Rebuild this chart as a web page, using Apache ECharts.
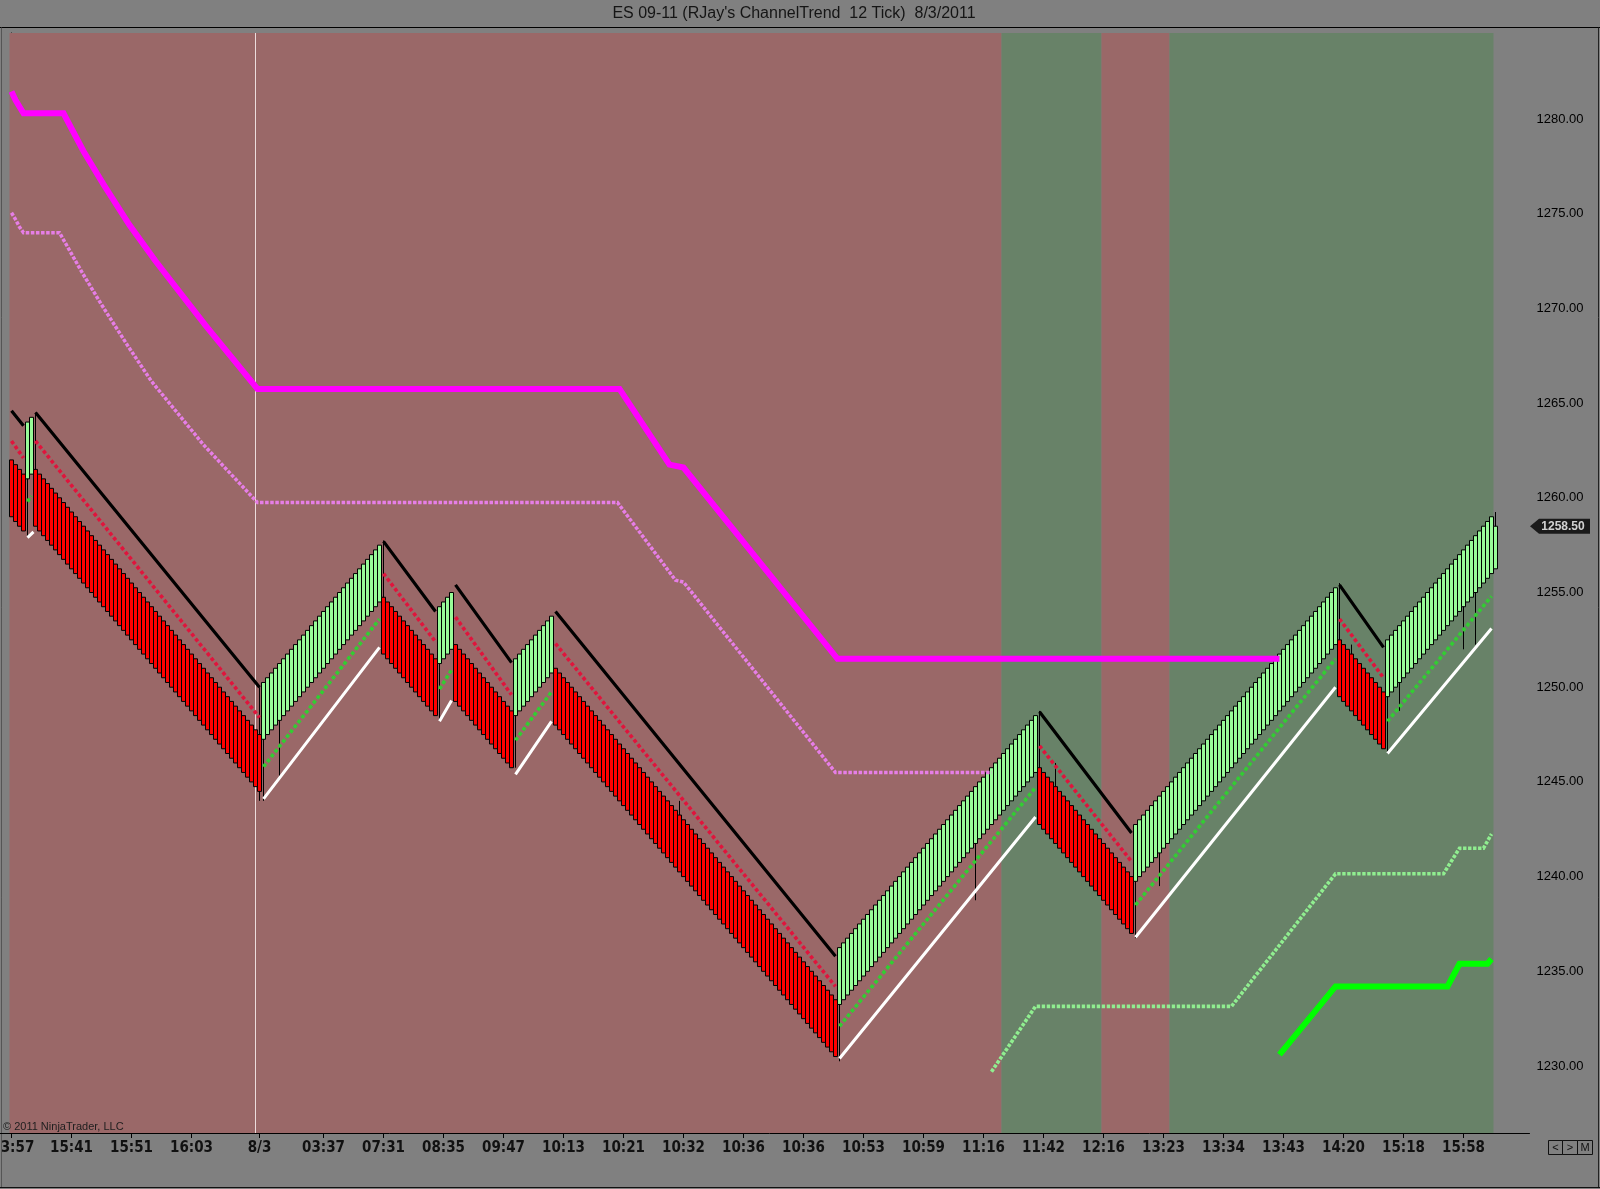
<!DOCTYPE html>
<html><head><meta charset="utf-8">
<script src="https://cdn.jsdelivr.net/npm/echarts@6/dist/echarts.min.js"></script>
<style>html,body{margin:0;padding:0;background:#808080;}#c{width:1600px;height:1189px;}</style>
</head><body><div id="c"></div><script>
// ===== DATA =====
const titleText = "ES 09-11 (RJay's ChannelTrend  12 Tick)  8/3/2011";
const barCount = 380; // category slots incl. right margin
const closes = [
1259,1258.75,1258.5,1258.25,
1264,1264.25,
1258.5,1258.25,1258,1257.75,1257.5,1257.25,1257,1256.75,1256.5,1256.25,
1256,1255.75,1255.5,1255.25,1255,1254.75,1254.5,1254.25,1254,1253.75,
1253.5,1253.25,1253,1252.75,1252.5,1252.25,1252,1251.75,1251.5,1251.25,
1251,1250.75,1250.5,1250.25,1250,1249.75,1249.5,1249.25,1249,1248.75,
1248.5,1248.25,1248,1247.75,1247.5,1247.25,1247,1246.75,1246.5,1246.25,
1246,1245.75,1245.5,1245.25,1245,1244.75,1244.5,
1250.25,1250.5,1250.75,1251,1251.25,1251.5,1251.75,1252,1252.25,1252.5,
1252.75,1253,1253.25,1253.5,1253.75,1254,1254.25,1254.5,1254.75,1255,
1255.25,1255.5,1255.75,1256,1256.25,1256.5,1256.75,1257,1257.25,1257.5,
1251.75,1251.5,1251.25,1251,1250.75,1250.5,1250.25,1250,1249.75,1249.5,1249.25,1249,1248.75,1248.5,
1254.25,1254.5,1254.75,1255,
1249.25,1249,1248.75,1248.5,1248.25,1248,1247.75,1247.5,1247.25,1247,1246.75,1246.5,1246.25,1246,1245.75,
1251.5,1251.75,1252,1252.25,1252.5,1252.75,1253,1253.25,1253.5,1253.75,
1248,1247.75,1247.5,1247.25,1247,1246.75,1246.5,1246.25,1246,1245.75,
1245.5,1245.25,1245,1244.75,1244.5,1244.25,1244,1243.75,1243.5,1243.25,
1243,1242.75,1242.5,1242.25,1242,1241.75,1241.5,1241.25,1241,1240.75,
1240.5,1240.25,1240,1239.75,1239.5,1239.25,1239,1238.75,1238.5,1238.25,
1238,1237.75,1237.5,1237.25,1237,1236.75,1236.5,1236.25,1236,1235.75,
1235.5,1235.25,1235,1234.75,1234.5,1234.25,1234,1233.75,1233.5,1233.25,
1233,1232.75,1232.5,1232.25,1232,1231.75,1231.5,1231.25,1231,1230.75,
1230.5,
1236.25,1236.5,1236.75,1237,1237.25,1237.5,1237.75,1238,1238.25,1238.5,
1238.75,1239,1239.25,1239.5,1239.75,1240,1240.25,1240.5,1240.75,1241,
1241.25,1241.5,1241.75,1242,1242.25,1242.5,1242.75,1243,1243.25,1243.5,
1243.75,1244,1244.25,1244.5,1244.75,1245,1245.25,1245.5,1245.75,1246,
1246.25,1246.5,1246.75,1247,1247.25,1247.5,1247.75,1248,1248.25,1248.5,
1242.75,1242.5,1242.25,1242,1241.75,1241.5,1241.25,1241,1240.75,1240.5,
1240.25,1240,1239.75,1239.5,1239.25,1239,1238.75,1238.5,1238.25,1238,
1237.75,1237.5,1237.25,1237,
1242.75,1243,1243.25,1243.5,1243.75,1244,1244.25,1244.5,1244.75,1245,
1245.25,1245.5,1245.75,1246,1246.25,1246.5,1246.75,1247,1247.25,1247.5,
1247.75,1248,1248.25,1248.5,1248.75,1249,1249.25,1249.5,1249.75,1250,
1250.25,1250.5,1250.75,1251,1251.25,1251.5,1251.75,1252,1252.25,1252.5,
1252.75,1253,1253.25,1253.5,1253.75,1254,1254.25,1254.5,1254.75,1255,
1255.25,
1249.5,1249.25,1249,1248.75,1248.5,1248.25,1248,1247.75,1247.5,1247.25,1247,1246.75,
1252.5,1252.75,1253,1253.25,1253.5,1253.75,1254,1254.25,1254.5,1254.75,
1255,1255.25,1255.5,1255.75,1256,1256.25,1256.5,1256.75,1257,1257.25,
1257.5,1257.75,1258,1258.25,1258.5,1258.75,1259,
1258.5
];
const opens = [
1262,1261.75,1261.5,1261.25,
1261,1261.25,
1261.5,1261.25,1261,1260.75,1260.5,1260.25,1260,1259.75,1259.5,1259.25,
1259,1258.75,1258.5,1258.25,1258,1257.75,1257.5,1257.25,1257,1256.75,
1256.5,1256.25,1256,1255.75,1255.5,1255.25,1255,1254.75,1254.5,1254.25,
1254,1253.75,1253.5,1253.25,1253,1252.75,1252.5,1252.25,1252,1251.75,
1251.5,1251.25,1251,1250.75,1250.5,1250.25,1250,1249.75,1249.5,1249.25,
1249,1248.75,1248.5,1248.25,1248,1247.75,1247.5,
1247.25,1247.5,1247.75,1248,1248.25,1248.5,1248.75,1249,1249.25,1249.5,
1249.75,1250,1250.25,1250.5,1250.75,1251,1251.25,1251.5,1251.75,1252,
1252.25,1252.5,1252.75,1253,1253.25,1253.5,1253.75,1254,1254.25,1254.5,
1254.75,1254.5,1254.25,1254,1253.75,1253.5,1253.25,1253,1252.75,1252.5,1252.25,1252,1251.75,1251.5,
1251.25,1251.5,1251.75,1252,
1252.25,1252,1251.75,1251.5,1251.25,1251,1250.75,1250.5,1250.25,1250,1249.75,1249.5,1249.25,1249,1248.75,
1248.5,1248.75,1249,1249.25,1249.5,1249.75,1250,1250.25,1250.5,1250.75,
1251,1250.75,1250.5,1250.25,1250,1249.75,1249.5,1249.25,1249,1248.75,
1248.5,1248.25,1248,1247.75,1247.5,1247.25,1247,1246.75,1246.5,1246.25,
1246,1245.75,1245.5,1245.25,1245,1244.75,1244.5,1244.25,1244,1243.75,
1243.5,1243.25,1243,1242.75,1242.5,1242.25,1242,1241.75,1241.5,1241.25,
1241,1240.75,1240.5,1240.25,1240,1239.75,1239.5,1239.25,1239,1238.75,
1238.5,1238.25,1238,1237.75,1237.5,1237.25,1237,1236.75,1236.5,1236.25,
1236,1235.75,1235.5,1235.25,1235,1234.75,1234.5,1234.25,1234,1233.75,
1233.5,
1233.25,1233.5,1233.75,1234,1234.25,1234.5,1234.75,1235,1235.25,1235.5,
1235.75,1236,1236.25,1236.5,1236.75,1237,1237.25,1237.5,1237.75,1238,
1238.25,1238.5,1238.75,1239,1239.25,1239.5,1239.75,1240,1240.25,1240.5,
1240.75,1241,1241.25,1241.5,1241.75,1242,1242.25,1242.5,1242.75,1243,
1243.25,1243.5,1243.75,1244,1244.25,1244.5,1244.75,1245,1245.25,1245.5,
1245.75,1245.5,1245.25,1245,1244.75,1244.5,1244.25,1244,1243.75,1243.5,
1243.25,1243,1242.75,1242.5,1242.25,1242,1241.75,1241.5,1241.25,1241,
1240.75,1240.5,1240.25,1240,
1239.75,1240,1240.25,1240.5,1240.75,1241,1241.25,1241.5,1241.75,1242,
1242.25,1242.5,1242.75,1243,1243.25,1243.5,1243.75,1244,1244.25,1244.5,
1244.75,1245,1245.25,1245.5,1245.75,1246,1246.25,1246.5,1246.75,1247,
1247.25,1247.5,1247.75,1248,1248.25,1248.5,1248.75,1249,1249.25,1249.5,
1249.75,1250,1250.25,1250.5,1250.75,1251,1251.25,1251.5,1251.75,1252,
1252.25,
1252.5,1252.25,1252,1251.75,1251.5,1251.25,1251,1250.75,1250.5,1250.25,1250,1249.75,
1249.5,1249.75,1250,1250.25,1250.5,1250.75,1251,1251.25,1251.5,1251.75,
1252,1252.25,1252.5,1252.75,1253,1253.25,1253.5,1253.75,1254,1254.25,
1254.5,1254.75,1255,1255.25,1255.5,1255.75,1256,
1256.25
];
// wicks beyond the bodies
const wickHighBars = [6, 62, 93, 167, 257, 261, 332, 335, 371];
const wickHighVals = [1264.5, 1250, 1257.75, 1244, 1248.75, 1246, 1255.5, 1252.25, 1259.25];
const wickLowBars = [4, 62, 63, 67, 107, 126, 207, 241, 281, 287, 344, 347, 363, 366];
const wickLowVals = [1258, 1244, 1244, 1245.25, 1248.25, 1245.75, 1230.25, 1238.75, 1236.75, 1239.5, 1246.5, 1248.75, 1252, 1252.25];

// channel lines: segments of [bar, price] knots
const blackSegs = [
 [[0,1264.6],[3,1263.8]], [[6,1264.5],[62,1250.0]], [[93,1257.7],[106,1254.0]],
 [[111,1255.4],[125,1251.3]], [[136,1254.0],[206,1235.8]], [[257,1248.7],[280,1242.3]],
 [[332,1255.4],[343,1252.1]]
];
const redDotSegs = [
 [[0,1263.0],[3,1262.1]], [[6,1263.0],[62,1248.4]], [[93,1256.0],[106,1252.4]],
 [[111,1253.7],[125,1249.6]], [[136,1252.3],[206,1234.2]], [[257,1246.9],[280,1240.8]],
 [[332,1253.6],[343,1250.5]]
];
const whiteSegs = [
 [[4,1257.9],[5.5,1258.2]], [[63,1244.1],[92,1252.1]], [[107,1248.2],[110,1249.3]],
 [[126,1245.4],[135,1248.2]], [[207,1230.4],[256,1243.15]], [[281,1236.8],[331,1250.0]],
 [[344,1246.5],[370,1253.1]]
];
const greenDotSegs = [
 [[4,1259.8],[5,1260.1]], [[63,1245.8],[92,1253.6]], [[107,1249.9],[110,1250.9]],
 [[126,1247.2],[135,1249.75]], [[207,1232.1],[256,1244.7]], [[281,1238.5],[331,1251.5]],
 [[344,1248.2],[370,1254.8]]
];
// trailing stop lines
const magentaLine = [[0,1281.45],[1,1281.0],[2,1280.65],[3,1280.3],[13,1280.3],[18,1278.3],[23,1276.55],
 [29.5,1274.4],[36,1272.5],[48.5,1269.1],[61.5,1265.75],[152,1265.75],[164.5,1261.75],[168,1261.6],
 [206.5,1251.5],[317,1251.5]];
const pinkLine = [[0,1275.05],[1,1274.7],[2,1274.3],[3,1274.0],[12,1274.0],[17.5,1271.95],[22.5,1270.2],
 [29,1268.05],[35,1266.15],[48,1262.8],[61.5,1259.75],[151.5,1259.75],[166,1255.65],[168,1255.55],
 [206,1245.5],[245,1245.5]];
const lightGreenLine = [[245,1229.7],[256,1233.15],[305,1233.15],[331,1240.15],[358,1240.15],
 [362,1241.5],[368,1241.5],[370,1242.25]];
const brightGreenLine = [[317,1230.6],[331,1234.2],[359,1234.2],[362,1235.4],[369,1235.4],[370,1235.65]];

// background regime zones (first bar, last bar)
const zoneStart = [0, 248, 273, 290];
const zoneEnd = [247, 272, 289, 370];
const zoneBull = [false, true, false, true];
const sessionBreakBar = 61;

// axes
const tickBars = [0,15,30,45,62,78,93,108,123,138,153,168,183,198,213,228,243,258,273,288,303,318,333,348,363];
const tickLabels = ['3:57','15:41','15:51','16:03','8/3','03:37','07:31','08:35','09:47','10:13','10:21','10:32',
 '10:36','10:36','10:53','10:59','11:16','11:42','12:16','13:23','13:34','13:43','14:20','15:18','15:58'];
const yTicks = [1230,1235,1240,1245,1250,1255,1260,1265,1270,1275,1280];
const yMin = 1226.463, yMax = 1284.541;
const lastPrice = 1258.5;

// ===== BUILD =====
const cats = Array.from({length: barCount}, (_, i) => String(i));
const candleData = closes.map((c, i) => {
  const o = opens[i];
  let lo = Math.min(o, c), hi = Math.max(o, c);
  const h = wickHighBars.indexOf(i); if (h >= 0) hi = Math.max(hi, wickHighVals[h]);
  const l = wickLowBars.indexOf(i); if (l >= 0) lo = Math.min(lo, wickLowVals[l]);
  return [o, c, lo, hi];
});
function segData(segs) {
  const out = [];
  segs.forEach((s, k) => { if (k) out.push([s[0][0] - 0.5, '-']); s.forEach(p => out.push(p)); });
  return out;
}
function lineSeries(data, color, width, dash, z) {
  return { type: 'line', xAxisIndex: 1, yAxisIndex: 0, data, symbol: 'none', silent: true,
    connectNulls: false, z, animation: false,
    lineStyle: { color, width, type: dash || 'solid', cap: 'butt', join: 'miter' } };
}
const zones = zoneStart.map((s, k) => [
  { xAxis: s - 0.5, itemStyle: { color: zoneBull[k] ? '#688268' : '#9a6868', opacity: 1 } },
  { xAxis: zoneEnd[k] + 0.5 }
]);
const labelFont = "'Liberation Sans Narrow','Arial Narrow','DejaVu Sans Condensed','Liberation Sans',sans-serif";

const chart = echarts.init(document.getElementById('c'));
chart.setOption({
  animation: false,
  backgroundColor: '#808080',
  grid: { left: 9.5, right: 70.5, top: 33, bottom: 56, containLabel: false, outerBoundsMode: 'none' },
  xAxis: [
    { type: 'category', data: cats, boundaryGap: true,
      axisLine: { show: true, lineStyle: { color: '#000', width: 1 } },
      axisTick: { show: true, alignWithLabel: true, length: 5, interval: (i) => tickBars.includes(i), lineStyle: { color: '#000' } },
      axisLabel: { interval: (i) => tickBars.includes(i),
        formatter: (v, i) => { const t = tickLabels[tickBars.indexOf(i)] || ''; return i === tickBars[0] ? '{first|' + t + '}' : t; },
        rich: { first: { padding: [0, 0, 0, 12], color: '#111', fontSize: 15, fontWeight: 'bold', fontFamily: labelFont } },
        color: '#111', fontSize: 15, fontWeight: 'bold', fontFamily: labelFont, margin: 8, hideOverlap: false },
      splitLine: { show: false } },
    { type: 'value', min: -0.5, max: barCount - 0.5, show: false, gridIndex: 0 }
  ],
  yAxis: {
    type: 'value', position: 'right', min: yMin, max: yMax,
    axisLine: { show: true, lineStyle: { color: '#000', width: 1 } },
    axisTick: { show: true, length: 6, customValues: yTicks, lineStyle: { color: '#000' } },
    axisLabel: { customValues: yTicks, formatter: (v) => Number(v).toFixed(2), margin: 7, color: '#000',
      fontSize: 13, fontFamily: "'Liberation Sans',Arial,sans-serif" },
    splitLine: { show: false }
  },
  series: [
    { type: 'line', xAxisIndex: 1, data: [], silent: true, z: 0,
      markArea: { silent: true, data: zones },
      markLine: { silent: true, symbol: 'none', z: 1, label: { show: false }, animation: false,
        lineStyle: { color: '#ecdcdc', width: 1, type: 'solid' }, data: [{ xAxis: sessionBreakBar }] } },
    { type: 'candlestick', xAxisIndex: 0, data: candleData, barWidth: 4, z: 2, silent: true,
      itemStyle: { color: '#98fb98', color0: '#ff0000', borderColor: '#000', borderColor0: '#000', borderWidth: 1 } },
    lineSeries(magentaLine, '#ff00ff', 6, null, 3),
    lineSeries(pinkLine, '#e67ee6', 3.5, [3.5, 1.6], 3),
    lineSeries(lightGreenLine, '#90ee90', 3.6, [3.4, 1.6], 3),
    lineSeries(brightGreenLine, '#00ff00', 6, null, 3),
    lineSeries(segData(blackSegs), '#000000', 3.2, null, 4),
    lineSeries(segData(redDotSegs), '#e0143c', 3.6, [3.6, 2.6], 4),
    lineSeries(segData(whiteSegs), '#ffffff', 3, null, 4),
    lineSeries(segData(greenDotSegs), '#32cd32', 3.6, [3.6, 2.6], 4),
    { type: 'scatter', xAxisIndex: 1, yAxisIndex: 0, clip: false, silent: true, z: 6,
      data: [[barCount - 0.5, lastPrice]],
      symbol: 'path://M0,7.5L9,0L60,0L60,15L9,15Z', symbolSize: [60, 15], symbolKeepAspect: false,
      symbolOffset: [30.5, 0], itemStyle: { color: '#000' },
      label: { show: true, position: 'inside', offset: [3, 0], formatter: () => lastPrice.toFixed(2),
        color: '#fff', fontWeight: 'bold', fontSize: 12, fontFamily: "'Liberation Sans',Arial,sans-serif" } }
  ],
  graphic: [
    { type: 'text', x: 794, y: 13.5, silent: true, z: 10,
      style: { text: titleText, fill: '#151515', font: "16px 'Liberation Sans',Arial,sans-serif", textAlign: 'center', textVerticalAlign: 'middle' } },
    { type: 'line', silent: true, z: 10, shape: { x1: 0, y1: 27.5, x2: 1600, y2: 27.5 }, style: { stroke: '#000', lineWidth: 1 } },
    { type: 'line', silent: true, z: 10, shape: { x1: 1.5, y1: 27.5, x2: 1.5, y2: 1188 }, style: { stroke: '#555', lineWidth: 1 } },
    { type: 'line', silent: true, z: 10, shape: { x1: 1598.5, y1: 27.5, x2: 1598.5, y2: 1188 }, style: { stroke: '#222', lineWidth: 1 } },
    { type: 'line', silent: true, z: 10, shape: { x1: 0, y1: 1187.5, x2: 1600, y2: 1187.5 }, style: { stroke: '#111', lineWidth: 1 } },
    { type: 'line', silent: true, z: 10, shape: { x1: 0, y1: 1133.5, x2: 10, y2: 1133.5 }, style: { stroke: '#000', lineWidth: 1 } },
    { type: 'text', x: 3, y: 1127, silent: true, z: 10,
      style: { text: '\u00a9 2011 NinjaTrader, LLC', fill: '#1e1e1e', font: "11px 'Liberation Sans',Arial,sans-serif", textVerticalAlign: 'middle' } },
    { type: 'rect', silent: true, z: 10, shape: { x: 1548.5, y: 1140.5, width: 14, height: 14 }, style: { fill: 'none', stroke: '#111', lineWidth: 1 } },
    { type: 'rect', silent: true, z: 10, shape: { x: 1562.5, y: 1140.5, width: 15, height: 14 }, style: { fill: 'none', stroke: '#111', lineWidth: 1 } },
    { type: 'rect', silent: true, z: 10, shape: { x: 1577.5, y: 1140.5, width: 15, height: 14 }, style: { fill: 'none', stroke: '#111', lineWidth: 1 } },
    { type: 'text', x: 1555.5, y: 1148, silent: true, z: 10, style: { text: '<', fill: '#111', font: "11px 'Liberation Sans',Arial,sans-serif", textAlign: 'center', textVerticalAlign: 'middle' } },
    { type: 'text', x: 1570, y: 1148, silent: true, z: 10, style: { text: '>', fill: '#111', font: "11px 'Liberation Sans',Arial,sans-serif", textAlign: 'center', textVerticalAlign: 'middle' } },
    { type: 'text', x: 1585, y: 1148, silent: true, z: 10, style: { text: 'M', fill: '#111', font: "11px 'Liberation Sans Narrow','Liberation Sans',Arial,sans-serif", textAlign: 'center', textVerticalAlign: 'middle' } }
  ]
});
</script></body></html>
